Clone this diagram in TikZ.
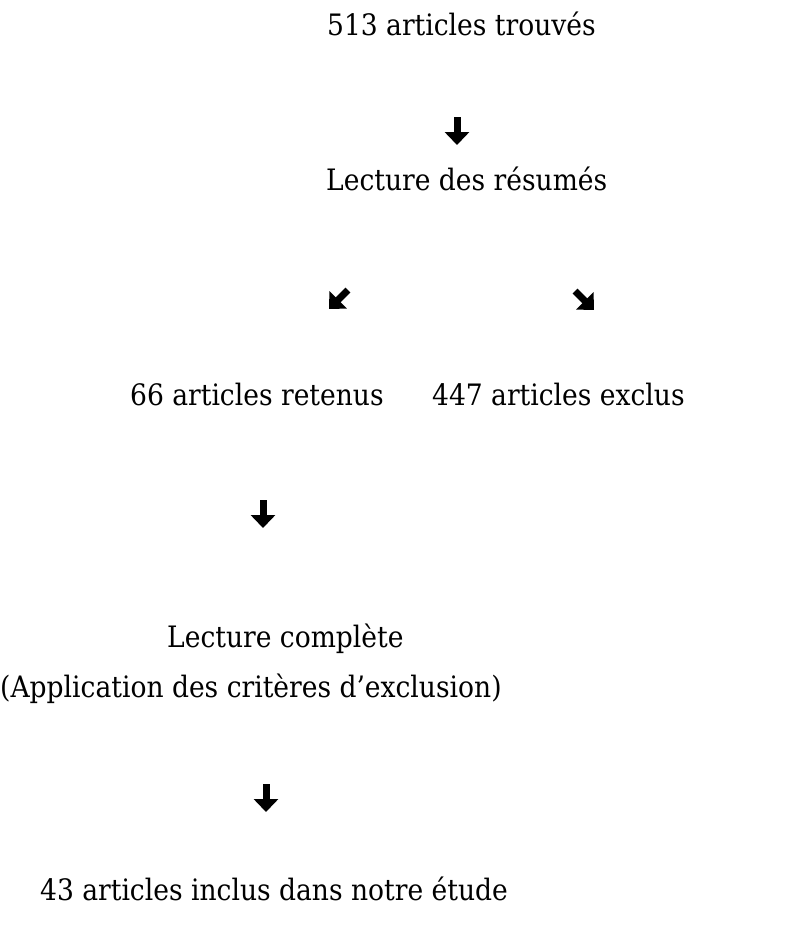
\documentclass[tikz,border=0pt]{standalone}
\usepackage{fontspec}
\setmainfont{DejaVu Serif Condensed}
\usetikzlibrary{arrows.meta}
\tikzset{
  txt/.style={inner sep=0pt, anchor=base west, font=\fontsize{29.5}{35}\selectfont},
  fleche/.style={line width=7pt, -{Triangle[width=24pt,length=13pt]}}
}
\begin{document}
\begin{tikzpicture}[x=1pt,y=-1pt]
\useasboundingbox[fill=white] (0,0) rectangle (798,927);
\node[txt] (t1) at (327,35) {513 articles trouvés};
\node[txt] (t2) at (326,190) {Lecture des résumés};
\node[txt] (t3) at (130,405) {66 articles retenus};
\node[txt] (t4) at (432,405) {447 articles exclus};
\node[txt] (t5) at (167,647) {Lecture complète};
\node[txt] (t6) at (0,697) {(Application des critères d’exclusion)};
\node[txt] (t7) at (40,900) {43 articles inclus dans notre étude};
\coordinate (a1s) at (457,117);
\coordinate (a1e) at (457,145);
\coordinate (a2s) at (348,290);
\coordinate (a2e) at (329,309);
\coordinate (a3s) at (575,291);
\coordinate (a3e) at (594,310);
\coordinate (a4s) at (263,500);
\coordinate (a4e) at (263,528);
\coordinate (a5s) at (266,784);
\coordinate (a5e) at (266,812);
\draw[fleche] (a1s) -- (a1e);
\draw[fleche] (a2s) -- (a2e);
\draw[fleche] (a3s) -- (a3e);
\draw[fleche] (a4s) -- (a4e);
\draw[fleche] (a5s) -- (a5e);
\end{tikzpicture}
\end{document}
